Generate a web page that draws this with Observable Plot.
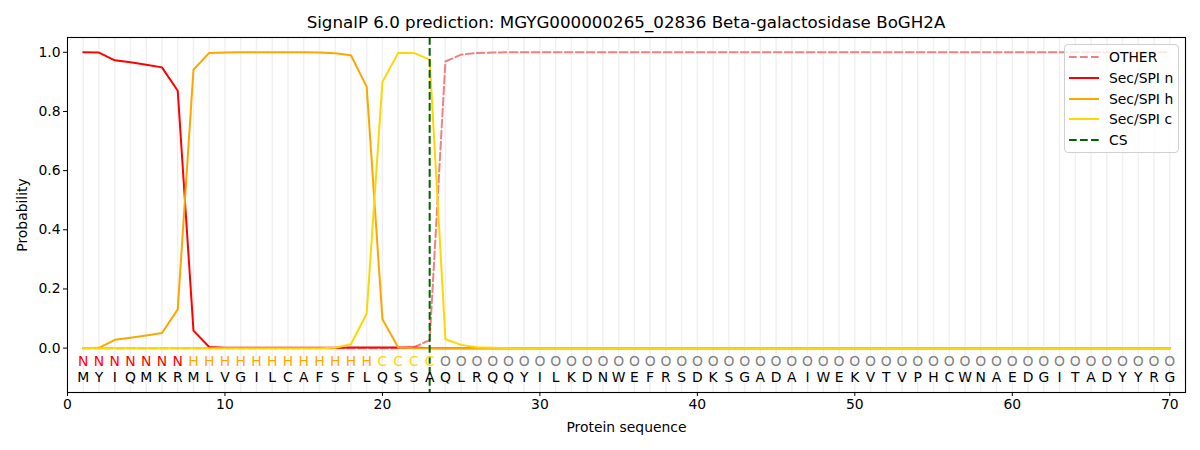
<!DOCTYPE html>
<html>
<head>
<meta charset="utf-8">
<script src="https://cdn.jsdelivr.net/npm/d3@7"></script>
<script src="https://cdn.jsdelivr.net/npm/@observablehq/plot@0.6"></script>
<style>
  html, body { margin: 0; padding: 0; background: #fff; }
  #wrap { position: relative; width: 1200px; height: 450px; font-family: "DejaVu Sans", sans-serif; }
  #title { position: absolute; left: 67px; width: 1118px; top: 12px; text-align: center; font-size: 16.7px; color: #000; }
  #legend { position: absolute; left: 1064px; top: 44px; width: 115px; height: 109px; border: 1px solid #d0d0d0; border-radius: 4px; background: rgba(255,255,255,0.8); box-sizing: border-box; }
  .item { position: absolute; left: 4px; height: 20px; display: flex; align-items: center; font-size: 13.9px; color: #000; white-space: nowrap; }
  .item svg { margin-right: 10px; flex: none; }
</style>
</head>
<body>
<div id="wrap">
  <div id="chart"></div>
  <div id="title"></div>
  <div id="legend"></div>
</div>
<script>
const titleText = "SignalP 6.0 prediction: MGYG000000265_02836 Beta-galactosidase BoGH2A";
const residues = "MYIQMKRMLVGILCAFSFLQSSAQLRQQYILKDNWEFRSDKSGADAIWEKVTVPHCWNAEDGITADYYRG".split("");
const regionLabels = "NNNNNNNHHHHHHHHHHHHCCCC".split("").concat(Array(47).fill("O"));

const otherProb = [0,0,0,0,0,0,0,0,0,0, 0,0,0,0,0,0,0,0,0,0, 0,0.003,0.027,0.969,0.992,0.998,0.999,1,1,1,
  1,1,1,1,1,1,1,1,1,1, 1,1,1,1,1,1,1,1,1,1, 1,1,1,1,1,1,1,1,1,1, 1,1,1,1,1,1,1,1,1,1];
const nProb = [1.0,0.999,0.973,0.966,0.958,0.949,0.870,0.059,0.004,0.001, 0.001,0.001,0.001,0.001,0.001,0.001,0.001,0.002,0.002,0.002, 0.002,0.002,0,0,0,0,0,0,0,0,
  0,0,0,0,0,0,0,0,0,0, 0,0,0,0,0,0,0,0,0,0, 0,0,0,0,0,0,0,0,0,0, 0,0,0,0,0,0,0,0,0,0];
const hProb = [0,0.001,0.028,0.035,0.043,0.051,0.131,0.941,0.998,0.999, 1,1,1,1,1,0.999,0.997,0.990,0.883,0.098, 0.002,0,0,0,0,0,0,0,0,0,
  0,0,0,0,0,0,0,0,0,0, 0,0,0,0,0,0,0,0,0,0, 0,0,0,0,0,0,0,0,0,0, 0,0,0,0,0,0,0,0,0,0];
const cProb = [0,0,0,0,0,0,0,0,0,0, 0,0,0,0,0,0,0.001,0.013,0.117,0.900, 0.998,0.998,0.975,0.030,0.011,0.003,0.001,0,0,0,
  0,0,0,0,0,0,0,0,0,0, 0,0,0,0,0,0,0,0,0,0, 0,0,0,0,0,0,0,0,0,0, 0,0,0,0,0,0,0,0,0,0];
const csPos = 23;

const seriesNames = ["OTHER", "Sec/SPI n", "Sec/SPI h", "Sec/SPI c", "CS"];
const seriesColors = ["#f08080", "#ff0000", "#ffa500", "#ffd700", "#006400"];
const labelColors = {N: "#ff0000", H: "#ffa500", C: "#ffd700", O: "#808080"};
const xTicks = [0, 10, 20, 30, 40, 50, 60, 70];
const yTicks = [0, 0.2, 0.4, 0.6, 0.8, 1.0];

const pos = residues.map((_, i) => i + 1);
const toRows = arr => arr.map((v, i) => ({x: i + 1, y: v}));
const resRows = residues.map((r, i) => ({x: i + 1, r, lab: regionLabels[i]}));

const lw = 2;
const chart = Plot.plot({
  width: 1200,
  height: 450,
  marginLeft: 67,
  marginRight: 15,
  marginTop: 37,
  marginBottom: 58,
  style: {fontFamily: "DejaVu Sans, sans-serif", fontSize: "13.9px", color: "#000", background: "#fff"},
  x: {domain: [0, 71], ticks: xTicks, label: "Protein sequence"},
  y: {domain: [-0.15, 1.05], ticks: yTicks, label: "Probability"},
  marks: [
    Plot.ruleX(pos, {stroke: "#f0f0f0", strokeWidth: 1.5}),
    Plot.line(toRows(otherProb), {x: "x", y: "y", stroke: seriesColors[0], strokeWidth: lw, strokeDasharray: "7.7,3.3"}),
    Plot.line(toRows(nProb), {x: "x", y: "y", stroke: seriesColors[1], strokeWidth: lw}),
    Plot.line(toRows(hProb), {x: "x", y: "y", stroke: seriesColors[2], strokeWidth: lw}),
    Plot.line(toRows(cProb), {x: "x", y: "y", stroke: seriesColors[3], strokeWidth: lw}),
    Plot.ruleX([csPos], {stroke: seriesColors[4], strokeWidth: lw, strokeDasharray: "7.7,3.3"}),
    Plot.text(resRows, {x: "x", y: -0.047, text: "lab", fill: d => labelColors[d.lab], fontSize: 13.9}),
    Plot.text(resRows, {x: "x", y: -0.1, text: "r", fill: "#000", fontSize: 13.9}),
    Plot.frame({stroke: "#000", strokeWidth: 1.1}),
    Plot.axisX({ticks: xTicks, tickSize: 4, tickPadding: 3, label: "Protein sequence", labelAnchor: "center", labelArrow: "none", labelOffset: 39}),
    Plot.axisY({ticks: yTicks, tickSize: 4, tickPadding: 3, tickFormat: d3.format(".1f"), label: "Probability", labelAnchor: "center", labelArrow: "none", labelOffset: 50})
  ]
});
document.getElementById("chart").appendChild(chart);
document.getElementById("title").textContent = titleText;

const legend = document.getElementById("legend");
seriesNames.forEach((name, i) => {
  const item = document.createElement("div");
  item.className = "item";
  item.style.top = (2 + i * 20.8) + "px";
  const dash = (i === 0 || i === 4) ? 'stroke-dasharray="7.7,3.3"' : "";
  item.innerHTML = `<svg width="30" height="4"><line x1="0" y1="2" x2="30" y2="2" stroke="${seriesColors[i]}" stroke-width="2" ${dash}/></svg><span>${name}</span>`;
  legend.appendChild(item);
});
</script>
</body>
</html>
